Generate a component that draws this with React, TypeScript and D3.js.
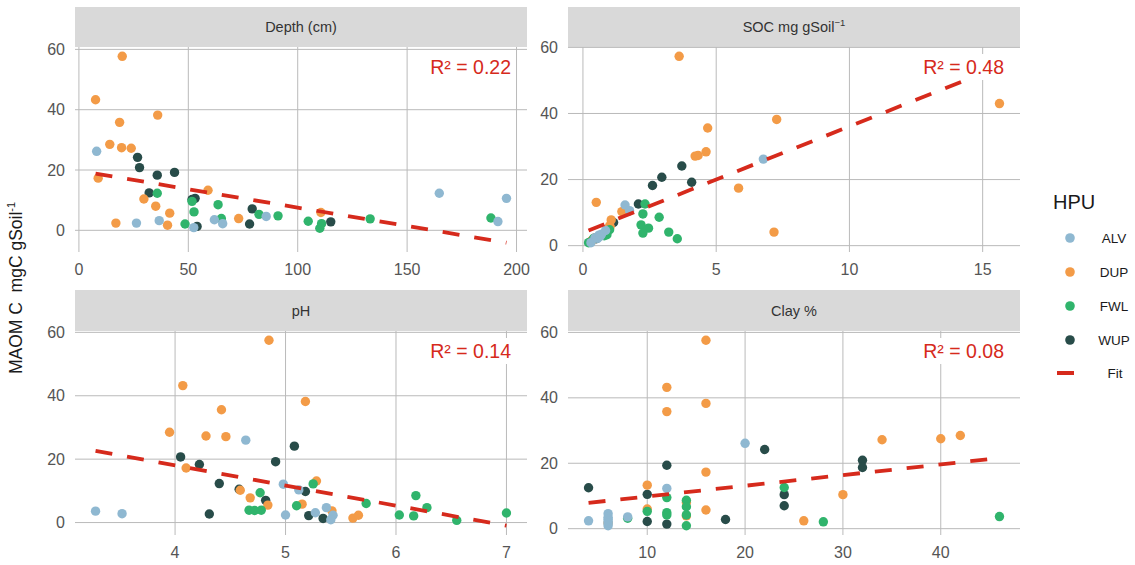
import * as d3 from "d3";

type Pt = [number, number, string];

const groups = ["ALV", "DUP", "FWL", "WUP"];
const groupColors = ["#8fb8d1", "#f39b47", "#30b46c", "#284c49"];
const drawOrder = ["WUP", "DUP", "FWL", "ALV"];

// MAOM C vs depth (cm)
const depthPts: Pt[] = [
  [19.8, 57.7, "DUP"], [7.6, 43.3, "DUP"], [36.0, 38.2, "DUP"], [18.6, 35.8, "DUP"],
  [14.1, 28.5, "DUP"], [19.5, 27.4, "DUP"], [23.9, 27.2, "DUP"], [8.8, 17.3, "DUP"],
  [29.7, 10.4, "DUP"], [35.1, 8.0, "DUP"], [41.5, 5.7, "DUP"], [16.9, 2.4, "DUP"],
  [40.5, 1.7, "DUP"], [59.0, 13.3, "DUP"], [73.0, 3.9, "DUP"], [110.6, 5.9, "DUP"],
  [8.1, 26.2, "ALV"], [26.3, 2.4, "ALV"], [36.7, 3.2, "ALV"], [52.5, 0.9, "ALV"],
  [61.9, 3.5, "ALV"], [65.7, 2.2, "ALV"], [85.6, 4.6, "ALV"], [164.7, 12.3, "ALV"],
  [195.4, 10.6, "ALV"], [191.5, 2.9, "ALV"],
  [26.8, 24.2, "WUP"], [27.7, 20.8, "WUP"], [35.8, 18.3, "WUP"], [43.7, 19.2, "WUP"],
  [32.1, 12.4, "WUP"], [53.1, 10.6, "WUP"], [51.7, 10.2, "WUP"], [54.0, 1.3, "WUP"],
  [79.2, 7.1, "WUP"], [78.0, 2.1, "WUP"], [115.1, 2.8, "WUP"],
  [35.8, 12.3, "FWL"], [51.7, 9.6, "FWL"], [52.6, 6.1, "FWL"], [48.5, 2.1, "FWL"],
  [63.6, 8.5, "FWL"], [65.1, 3.9, "FWL"], [82.3, 5.3, "FWL"], [91.0, 4.8, "FWL"],
  [104.8, 3.0, "FWL"], [110.9, 2.2, "FWL"], [110.1, 0.7, "FWL"], [133.1, 3.8, "FWL"],
  [188.3, 4.1, "FWL"],
];

// MAOM C vs SOC
const socPts: Pt[] = [
  [3.61, 57.3, "DUP"], [15.63, 43.0, "DUP"], [7.27, 38.2, "DUP"], [4.68, 35.6, "DUP"],
  [4.62, 28.4, "DUP"], [4.21, 27.1, "DUP"], [4.32, 27.3, "DUP"], [5.84, 17.4, "DUP"],
  [0.5, 13.1, "DUP"], [1.46, 10.3, "DUP"], [1.06, 7.8, "DUP"], [7.17, 4.1, "DUP"],
  [1.0, 6.0, "DUP"], [1.02, 5.7, "DUP"], [0.45, 2.4, "DUP"], [0.35, 1.7, "DUP"],
  [6.77, 26.2, "ALV"], [1.58, 12.3, "ALV"], [1.75, 10.6, "ALV"], [0.45, 2.4, "ALV"],
  [0.6, 3.2, "ALV"], [0.3, 0.9, "ALV"], [0.7, 3.5, "ALV"], [0.55, 2.2, "ALV"],
  [0.85, 4.6, "ALV"], [0.65, 2.9, "ALV"],
  [3.71, 24.1, "WUP"], [2.96, 20.7, "WUP"], [4.08, 19.2, "WUP"], [2.61, 18.2, "WUP"],
  [2.08, 12.6, "WUP"], [1.15, 7.0, "WUP"], [1.6, 10.6, "WUP"], [1.7, 10.4, "WUP"],
  [0.3, 1.3, "WUP"], [0.5, 2.1, "WUP"], [0.6, 2.8, "WUP"],
  [2.33, 12.6, "FWL"], [2.25, 9.6, "FWL"], [2.86, 8.6, "FWL"], [2.18, 6.3, "FWL"],
  [2.46, 5.3, "FWL"], [2.25, 3.8, "FWL"], [3.22, 4.1, "FWL"], [3.54, 2.1, "FWL"],
  [0.21, 0.9, "FWL"], [0.9, 3.3, "FWL"], [0.8, 3.0, "FWL"], [0.4, 2.2, "FWL"],
  [1.0, 4.8, "FWL"],
];

// MAOM C vs pH
const phPts: Pt[] = [
  [4.85, 57.5, "DUP"], [4.07, 43.2, "DUP"], [5.18, 38.2, "DUP"], [4.42, 35.6, "DUP"],
  [3.95, 28.5, "DUP"], [4.28, 27.3, "DUP"], [4.46, 27.1, "DUP"], [4.1, 17.2, "DUP"],
  [5.28, 13.1, "DUP"], [4.59, 10.2, "DUP"], [4.68, 7.8, "DUP"], [4.84, 5.5, "DUP"],
  [5.15, 5.8, "DUP"], [5.42, 3.7, "DUP"], [5.61, 1.4, "DUP"], [5.66, 2.3, "DUP"],
  [3.28, 3.6, "ALV"], [3.52, 2.8, "ALV"], [4.64, 26.0, "ALV"], [4.98, 12.1, "ALV"],
  [5.0, 2.4, "ALV"], [5.12, 10.3, "ALV"], [5.27, 3.1, "ALV"], [5.37, 4.7, "ALV"],
  [5.43, 2.3, "ALV"], [5.41, 0.9, "ALV"],
  [4.05, 20.7, "WUP"], [4.22, 18.3, "WUP"], [4.91, 19.2, "WUP"], [5.08, 24.1, "WUP"],
  [4.4, 12.3, "WUP"], [4.58, 10.5, "WUP"], [4.82, 7.0, "WUP"], [5.18, 9.8, "WUP"],
  [4.31, 2.7, "WUP"], [5.21, 2.2, "WUP"], [5.34, 1.3, "WUP"],
  [4.77, 9.4, "FWL"], [4.67, 3.9, "FWL"], [4.72, 3.8, "FWL"], [4.78, 3.9, "FWL"],
  [5.1, 5.3, "FWL"], [5.25, 12.2, "FWL"], [5.73, 6.0, "FWL"], [6.03, 2.4, "FWL"],
  [6.16, 2.1, "FWL"], [6.18, 8.5, "FWL"], [6.28, 4.7, "FWL"], [6.55, 0.7, "FWL"],
  [7.0, 3.0, "FWL"],
];

// MAOM C vs clay %
const clayPts: Pt[] = [
  [16, 57.6, "DUP"], [12, 43.2, "DUP"], [16, 38.3, "DUP"], [12, 35.8, "DUP"],
  [34, 27.2, "DUP"], [40, 27.5, "DUP"], [42, 28.5, "DUP"], [16, 17.3, "DUP"],
  [10, 13.3, "DUP"], [30, 10.4, "DUP"], [14, 8.0, "DUP"], [10, 6.0, "DUP"],
  [16, 5.7, "DUP"], [26, 2.4, "DUP"], [14, 3.9, "DUP"], [6, 1.7, "DUP"],
  [4, 2.4, "ALV"], [6, 4.6, "ALV"], [6, 3.5, "ALV"], [6, 2.9, "ALV"], [6, 2.2, "ALV"],
  [6, 0.9, "ALV"], [6, 1.6, "ALV"], [8, 3.6, "ALV"], [20, 26.1, "ALV"], [12, 12.3, "ALV"],
  [4, 12.5, "WUP"], [10, 10.5, "WUP"], [10, 2.2, "WUP"], [12, 19.4, "WUP"],
  [12, 1.4, "WUP"], [18, 2.8, "WUP"], [22, 24.2, "WUP"], [24, 10.4, "WUP"],
  [24, 7.0, "WUP"], [32, 20.9, "WUP"], [32, 18.7, "WUP"],
  [8, 3.2, "FWL"], [10, 5.3, "FWL"], [12, 9.5, "FWL"], [12, 4.9, "FWL"], [12, 4.2, "FWL"],
  [14, 8.7, "FWL"], [14, 6.7, "FWL"], [14, 4.2, "FWL"], [14, 0.9, "FWL"],
  [24, 12.6, "FWL"], [28, 2.1, "FWL"], [46, 3.7, "FWL"],
];

// fitted line end points
const depthFit: [number, number][] = [[7.6, 18.8], [195.4, -4.1]];
const socFit: [number, number][] = [[0.21, 4.6], [15.63, 54.2]];
const phFit: [number, number][] = [[3.28, 22.6], [7.0, -1.0]];
const clayFit: [number, number][] = [[4, 7.9], [46, 21.6]];

const r2Labels = ["0.22", "0.48", "0.14", "0.08"];

const depthTicks = [0, 50, 100, 150, 200];
const socTicks = [0, 5, 10, 15];
const phTicks = [4, 5, 6, 7];
const clayTicks = [10, 20, 30, 40];
const yTicks = [0, 20, 40, 60];

const FONT = "'Liberation Sans', Arial, Helvetica, sans-serif";
const FIT_COLOR = "#d62a1c";
const GRID = "#bababa";

const cols = [[75, 527], [568, 1020]];
const rows = [
  { strip: [7, 47], plot: [47, 252] },
  { strip: [290, 331], plot: [331, 535] },
];

const panels = [
  { title: "Depth (cm)", sup: "", pts: depthPts, fit: depthFit, r2: r2Labels[0], xTicks: depthTicks, col: 0, row: 0 },
  { title: "SOC mg gSoil", sup: "−1", pts: socPts, fit: socFit, r2: r2Labels[1], xTicks: socTicks, col: 1, row: 0 },
  { title: "pH", sup: "", pts: phPts, fit: phFit, r2: r2Labels[2], xTicks: phTicks, col: 0, row: 1 },
  { title: "Clay %", sup: "", pts: clayPts, fit: clayFit, r2: r2Labels[3], xTicks: clayTicks, col: 1, row: 1 },
];

const expand = ([a, b]: number[]) => {
  const pad = (b - a) * 0.05;
  return [a - pad, b + pad];
};

function Panel({ p }: { p: (typeof panels)[0] }) {
  const [x0, x1] = cols[p.col];
  const { strip, plot } = rows[p.row];
  const [y0, y1] = plot;

  const xs = p.pts.map((d) => d[0]).concat(p.fit.map((d) => d[0]));
  const ys = p.pts.map((d) => d[1]).concat(p.fit.map((d) => d[1]));
  const x = d3.scaleLinear().domain(expand(d3.extent(xs) as number[])).range([x0, x1]);
  const y = d3.scaleLinear().domain(expand(d3.extent(ys) as number[])).range([y1, y0]);

  const line = d3.line<[number, number]>().x((d) => x(d[0])).y((d) => y(d[1]));
  const sorted = drawOrder.flatMap((g) => p.pts.filter((d) => d[2] === g));

  const labelRight = x1 - 16;
  const labelY = y0 + 20;
  const labelW = 82;

  return (
    <g>
      {/* strip */}
      <rect x={x0} y={strip[0]} width={x1 - x0} height={strip[1] - strip[0]} fill="#d9d9d9" />
      <text x={(x0 + x1) / 2} y={(strip[0] + strip[1]) / 2} dy="0.35em" textAnchor="middle"
        fontSize={14.5} fill="#333" fontFamily={FONT}>
        {p.title}
        {p.sup && <tspan dy={-6} fontSize={9.5}>{p.sup}</tspan>}
      </text>

      {/* grid */}
      {yTicks.map((t) => (
        <line key={"h" + t} x1={x0} x2={x1} y1={y(t)} y2={y(t)} stroke={GRID} strokeWidth={1} />
      ))}
      {p.xTicks.map((t) => (
        <line key={"v" + t} x1={x(t)} x2={x(t)} y1={y0} y2={y1} stroke={GRID} strokeWidth={1} />
      ))}

      {/* axes labels */}
      {yTicks.map((t) => (
        <text key={"yl" + t} x={x0 - 10} y={y(t)} dy="0.35em" textAnchor="end"
          fontSize={16} fill="#555" fontFamily={FONT}>{t}</text>
      ))}
      {p.xTicks.map((t) => (
        <text key={"xl" + t} x={x(t)} y={y1 + 23} textAnchor="middle"
          fontSize={16} fill="#555" fontFamily={FONT}>{t}</text>
      ))}

      {/* points */}
      {sorted.map((d, i) => (
        <circle key={i} cx={x(d[0])} cy={y(d[1])} r={4.7}
          fill={groupColors[groups.indexOf(d[2])]} />
      ))}

      {/* fit */}
      <path d={line(p.fit) ?? ""} fill="none" stroke={FIT_COLOR} strokeWidth={3.8}
        strokeDasharray="17 15" />

      {/* R2 label */}
      <rect x={labelRight - labelW - 4} y={labelY - 13} width={labelW + 8} height={26} fill="#fff" />
      <text x={labelRight} y={labelY} dy="0.36em" textAnchor="end" fontSize={19.5}
        fill={FIT_COLOR} fontFamily={FONT}>R² = {p.r2}</text>
    </g>
  );
}

export default function App() {
  const legendY = [238, 272, 306, 340];
  return (
    <svg width={1135} height={565} style={{ position: "absolute", left: 0, top: 0, background: "#fff" }}>
      <rect width={1135} height={565} fill="#fff" />
      {panels.map((p) => <Panel key={p.title} p={p} />)}

      <text transform="translate(22,288) rotate(-90)" textAnchor="middle" fontSize={17.5}
        fill="#1a1a1a" fontFamily={FONT}>
        {"MAOM C\u00a0 mgC gSoil"}
        <tspan dy={-7} fontSize={11}>-1</tspan>
      </text>

      {/* legend */}
      <text x={1053} y={209} fontSize={20} fill="#1a1a1a" fontFamily={FONT}>HPU</text>
      {groups.map((g, i) => (
        <g key={g}>
          <circle cx={1070} cy={legendY[i]} r={4.8} fill={groupColors[i]} />
          <text x={1114} y={legendY[i]} dy="0.35em" textAnchor="middle" fontSize={13.5}
            fill="#1a1a1a" fontFamily={FONT}>{g}</text>
        </g>
      ))}
      <line x1={1057} x2={1074} y1={373} y2={373} stroke={FIT_COLOR} strokeWidth={4} />
      <text x={1115} y={373} dy="0.35em" textAnchor="middle" fontSize={13.5}
        fill="#1a1a1a" fontFamily={FONT}>Fit</text>
    </svg>
  );
}
